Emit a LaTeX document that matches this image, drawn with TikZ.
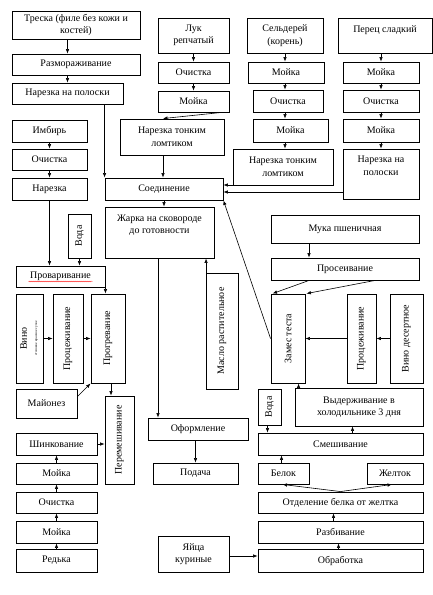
\documentclass[tikz,border=0pt]{standalone}
\usepackage{fontspec}
\setmainfont{Liberation Serif}
\usepackage{graphicx}
\usetikzlibrary{arrows.meta}
\usetikzlibrary{decorations.pathmorphing}

\begin{document}
\begin{tikzpicture}[x=1pt, y=-1pt,
	box/.style = {draw, line width=0.9pt, inner sep=1pt, align=center, font=\fontsize{10}{12.5}\selectfont},
	wh/.style 2 args = {minimum width=#1, minimum height=#2},
	>={Latex[length=4.5pt,width=3.5pt]}, line width=0.6pt]

	\useasboundingbox (0,0) rectangle (433,595);

	% fish and ginger
	\node [box, wh={128}{28}] (treska) at (76,25) {Треска (филе без кожи и\\костей)};
	\node [box, wh={128}{21}] (razmor) at (76,64.5) {Размораживание};
	\node [box, wh={111}{21}] (narpol) at (67.5,93.5) {Нарезка на полоски};
	\node [box, wh={75}{22}] (imbir) at (49.5,131) {Имбирь};
	\node [box, wh={75}{21}] (ochistI) at (49.5,159.5) {Очистка};
	\node [box, wh={75}{22}] (narez) at (49.5,189) {Нарезка};

	\draw [->] (treska.south -| narpol.north) -- (razmor.north -| narpol.north);
	\draw [->] (razmor.south -| narpol.north) -- (narpol.north);
	\draw [->] (imbir) -- (ochistI);
	\draw [->] (ochistI) -- (narez);

	% onion, celery, pepper
	\node [box, wh={71}{35}] (luk) at (193.5,35.5) {Лук\\репчатый};
	\node [box, wh={71}{21}] (ochistL) at (193.5,72.5) {Очистка};
	\node [box, wh={71}{21}] (moikaL) at (193.5,101.5) {Мойка};
	\node [box, wh={104}{36}] (nartonL) at (172,137) {Нарезка тонким\\ломтиком};

	\node [box, wh={76}{35}] (seld) at (285,35.5) {Сельдерей\\(корень)};
	\node [box, wh={76}{21}] (moikaSI) at (286,72.5) {Мойка};
	\node [box, wh={70}{22}] (ochistS) at (288,101) {Очистка};
	\node [box, wh={75}{23}] (moikaSII) at (290.5,130.5) {Мойка};
	\node [box, wh={100}{36}] (nartonS) at (283,167) {Нарезка тонким\\ломтиком};

	\node [box, wh={94}{35}, text depth=12pt] (perec) at (385,35.5) {Перец сладкий};
	\node [box, wh={76}{21}] (moikaPI) at (381,72.5) {Мойка};
	\node [box, wh={76}{22}] (ochistP) at (381,101) {Очистка};
	\node [box, wh={76}{23}] (moikaPII) at (381,130.5) {Мойка};
	\node [box, wh={76}{50}, text depth=17pt] (narpolP) at (381,174) {Нарезка на\\полоски};

	\draw [->] (luk) -- (ochistL);
	\draw [->] (ochistL) -- (moikaL);
	\draw [->] ([xshift=-8pt]moikaL.south east) -- ([xshift=-9pt]nartonL.north);
	\draw [->] (seld.south) -- (seld.south |- moikaSI.north);
	\draw [->] (seld.south |- moikaSI.south) -- (seld.south |- ochistS.north);
	\draw [->] (seld.south |- ochistS.south) -- (seld.south |- moikaSII.north);
	\draw [->] (seld.south |- moikaSII.south) -- (seld.south |- nartonS.north);
	\draw [->] (perec.south -| moikaPI) -- (moikaPI);
	\draw [->] (moikaPI) -- (ochistP);
	\draw [->] (ochistP) -- (moikaPII);
	\draw [->] (moikaPII) -- (narpolP);

	% joining and frying
	\node [box, wh={118}{22}] (soed) at (164,189) {Соединение};
	\node [box, wh={109}{51}, text depth=17pt] (zharka) at (159.5,232.5) {Жарка на сковороде\\до готовности};
	\node [box, wh={32}{116}] (maslo) at (222,331) {\rotatebox{90}{Масло растительное}};
	\node [box, wh={100}{22}] (oform) at (198,429) {Оформление};
	\node [box, wh={85}{21}] (podacha) at (195.5,473.5) {Подача};

	\draw [->] (narpol.south -| soed.north west) -- (soed.north west);
	\draw [->] ([xshift=-9pt]nartonL.south) -- ([xshift=-9pt]nartonL.south |- soed.north);
	\draw [->] ([yshift=4pt]soed.east -| nartonS.west) -- ([yshift=4pt]soed.east);
	\draw [->] ([yshift=-3pt]soed.east -| narpolP.west) -- ([yshift=-3pt]soed.east);
	\draw [->] (soed.south) -- (soed.south |- zharka.north);
	\draw [->] ([xshift=0.5pt]maslo.north west) -- ([xshift=0.5pt]maslo.north west |- zharka.south);
	\draw [->] ([xshift=-1.5pt]zharka.south) -- ([xshift=-1.5pt]zharka.south |- oform.north);
	\draw [->] (oform.south -| podacha) -- (podacha);

	% sauce
	\node [box, wh={23}{44}] (vodaI) at (79.5,236) {\rotatebox{90}{Вода}};
	\node [box, wh={89}{21}] (provar) at (60.5,276.5) {Проваривание};
	\node [box, wh={27}{89}] (vinoI) at (29.5,338.5) {\rotatebox{90}{\begin{tabular}{@{}c@{}}Вино\\[-2pt]\fontsize{3.5}{4}\selectfont столовое красное сухое\end{tabular}}};
	\node [box, wh={30}{89}] (procI) at (68,338.5) {\rotatebox{90}{Процеживание}};
	\node [box, wh={34}{89}] (progr) at (108,338.5) {\rotatebox{90}{Прогревание}};
	\node [box, wh={61}{29}] (mayon) at (46.5,403.5) {Майонез};
	\node [box, wh={29}{88}] (peremesh) at (119.5,440) {\rotatebox{90}{Перемешивание}};

	\draw [red, line width=0.3pt, decorate, decoration={snake, amplitude=0.5pt, segment length=2pt}]
		([xshift=-32pt,yshift=-5pt]provar.center) -- ([xshift=32pt,yshift=-5pt]provar.center);

	\draw [->] (narez.south) -- (narez.south |- provar.north);
	\draw [->] (vodaI) -- (vodaI.south |- provar.north);
	\draw [->] (provar.south east) -- (provar.south east |- progr.north);
	\draw [->] (vinoI) -- (procI);
	\draw [->] (procI) -- (progr);
	\draw [->] ([yshift=-8pt]mayon.north east) -- (progr.south west);
	\draw [->] ([xshift=3pt]progr.south) -- ([xshift=3pt]progr.south |- peremesh.north);

	% radish
	\node [box, wh={81}{22}] (shink) at (56.5,444) {Шинкование};
	\node [box, wh={81}{21}] (moikaRI) at (56.5,473.5) {Мойка};
	\node [box, wh={81}{21}] (ochistR) at (56.5,502.5) {Очистка};
	\node [box, wh={81}{22}] (moikaRII) at (56.5,532) {Мойка};
	\node [box, wh={81}{23}] (redka) at (56.5,560.5) {Редька};

	\draw [->] (shink.east) -- (shink.east -| peremesh.west);
	\draw [->] (moikaRI) -- (shink);
	\draw [->] (ochistR) -- (moikaRI);
	\draw [->] (moikaRII) -- (ochistR);
	\draw [->] (redka) -- (moikaRII);

	% dough
	\node [box, wh={148}{28}] (muka) at (345,229) {Мука пшеничная};
	\node [box, wh={148}{22}] (prosei) at (345,269) {Просеивание};
	\node [box, wh={34}{89}] (zames) at (288,338.5) {\rotatebox{90}{Замес теста}};
	\node [box, wh={29}{89}] (procII) at (361.5,338.5) {\rotatebox{90}{Процеживание}};
	\node [box, wh={33}{89}] (vinoII) at (406.5,338.5) {\rotatebox{90}{Вино десертное}};

	\draw [->] ([xshift=-36pt]muka.south) -- ([xshift=-36pt]prosei.north);
	\draw [->] ([xshift=-36pt]prosei.south) -- ([xshift=2pt]zames.north west);
	\draw [->] ([xshift=30pt]prosei.south) -- ([xshift=1pt]zames.north east);
	\draw [->] (vinoII) -- (procII);
	\draw [->] (procII) -- (zames);
	\draw [->] (zames.west) -- (soed.south east);

	% eggs
	\node [box, wh={23}{36}] (vodaII) at (269.5,407) {\rotatebox{90}{Вода}};
	\node [box, wh={128}{38}] (vyder) at (359,407) {Выдерживание в\\холодильнике 3 дня};
	\node [box, wh={165}{22}] (smesh) at (340.5,444) {Смешивание};
	\node [box, wh={51}{21}] (belok) at (283.5,473.5) {Белок};
	\node [box, wh={56}{21}] (zheltok) at (395,473.5) {Желток};
	\node [box, wh={165}{21}] (otdel) at (340.5,502.5) {Отделение белка от желтка};
	\node [box, wh={165}{22}] (razbiv) at (340.5,532) {Разбивание};
	\node [box, wh={165}{23}] (obrab) at (340.5,560.5) {Обработка};
	\node [box, wh={71}{36}] (yaica) at (193.5,554) {Яйца\\куриные};

	\draw [->] ([xshift=4pt]vyder.north west) -- ([xshift=4pt]vyder.north west |- zames.south);
	\draw [->] ([xshift=-2pt]vodaII.south) -- ([xshift=-2pt]vodaII.south |- smesh.north);
	\draw [->] ([xshift=12pt]smesh.north) -- ([xshift=12pt]smesh.north |- vyder.south);
	\draw [->] ([xshift=-2pt]belok.north) -- ([xshift=-2pt]belok.north |- smesh.south);
	\draw [->] (otdel.north) -- ([xshift=-1pt]belok.south);
	\draw [->] (otdel.north) -- ([xshift=-3pt]zheltok.south);
	\draw [->] ([xshift=-7pt]razbiv.north) -- ([xshift=-7pt]otdel.south);
	\draw [->] ([xshift=-2pt]obrab.north) -- ([xshift=-2pt]razbiv.south);
	\draw [->] ([yshift=-2pt]yaica.east) -- ([yshift=-2pt]yaica.east -| obrab.west);

\end{tikzpicture}
\end{document}
